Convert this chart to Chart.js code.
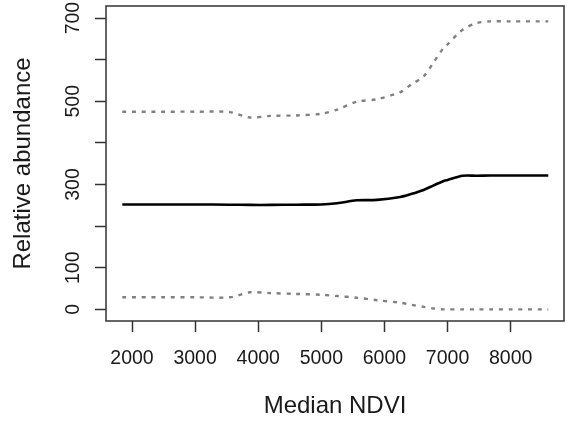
<!DOCTYPE html>
<html>
<head>
<meta charset="utf-8">
<script src="https://cdn.jsdelivr.net/npm/chart.js@4/dist/chart.umd.min.js"></script>
<style>
  html, body { margin: 0; padding: 0; background: #fff; }
  #wrap { width: 568px; height: 424px; }
</style>
</head>
<body>
<div id="wrap"><canvas id="grafNdvi"></canvas></div>
<script>
// valores
const ndvi   = [1846, 2500, 3000, 3550, 3870, 4200, 4600, 5000, 5250, 5560, 5880, 6250, 6420, 6620, 6780, 6930, 7000, 7240, 7460, 7670, 8000, 8596]
const ajuste = [252, 252, 252, 251.5, 251, 251, 251.5, 252, 255, 262, 263, 270, 277, 287, 298, 308, 311, 321, 321, 321.5, 321.5, 321.5]
const superior = [475, 475, 475, 474, 461, 465, 466, 470, 480, 499, 505, 522, 540, 560, 594, 627, 637, 672, 688, 692, 692, 692]
const inferior = [29, 29, 29, 29, 41, 39, 37, 35, 32, 28, 22, 16, 11, 6, 2, 0, 0, 0, 0, 0, 0, 0]

const xTicks = [2000, 3000, 4000, 5000, 6000, 7000, 8000]
const yTicks = [0, 100, 200, 300, 400, 500, 600, 700]
const yEtiquetas = [0, 100, 300, 500, 700]

const fuente = 'Liberation Sans, Arial, sans-serif'
const gris = '#333333'

function puntos(valores) {
    return ndvi.map((x, i) => ({ x: x, y: valores[i] }))
}

// caja alrededor del area del grafico, como en R
const caja = {
    id: 'caja',
    afterDraw(chart) {
        const a = chart.chartArea
        const ctx = chart.ctx
        ctx.save()
        ctx.strokeStyle = gris
        ctx.lineWidth = 1.5
        ctx.strokeRect(a.left, a.top, a.right - a.left, a.bottom - a.top)
        ctx.restore()
    }
}

let ctxNdvi = document.getElementById('grafNdvi')

let grafNdvi = new Chart(ctxNdvi, {
    type: 'line',
    data: {
        datasets: [
            {
                data: puntos(superior),
                borderColor: '#808080',
                borderWidth: 2.4,
                borderDash: [4, 5.7],
                pointRadius: 0,
                tension: 0.3
            },
            {
                data: puntos(inferior),
                borderColor: '#808080',
                borderWidth: 2.4,
                borderDash: [4, 5.7],
                pointRadius: 0,
                tension: 0.3
            },
            {
                data: puntos(ajuste),
                borderColor: '#000000',
                borderWidth: 2.6,
                pointRadius: 0,
                tension: 0.3
            }
        ]
    },
    options: {
        responsive: true,
        maintainAspectRatio: false,
        animation: false,
        layout: { padding: { top: 6, right: 4, left: 0, bottom: 0 } },
        plugins: {
            legend: { display: false },
            tooltip: { enabled: false }
        },
        scales: {
            x: {
                type: 'linear',
                min: 1588,
                max: 8845,
                afterBuildTicks: s => { s.ticks = xTicks.map(v => ({ value: v })) },
                afterFit: s => { s.height = 103; s.paddingLeft = 0; s.paddingRight = 0 },
                border: { display: false },
                grid: { drawOnChartArea: false, tickLength: 11, tickColor: gris, tickWidth: 1.5 },
                ticks: {
                    color: '#1a1a1a',
                    padding: 15,
                    maxRotation: 0,
                    autoSkip: false,
                    font: { family: fuente, size: 19.5 },
                    callback: v => String(v)
                },
                title: {
                    display: true,
                    text: 'Median NDVI',
                    color: '#1a1a1a',
                    padding: { top: 0, bottom: 3 },
                    font: { family: fuente, size: 24 }
                }
            },
            y: {
                min: -28,
                max: 729,
                afterBuildTicks: s => { s.ticks = yTicks.map(v => ({ value: v })) },
                afterFit: s => { s.width = 106; s.paddingTop = 0; s.paddingBottom = 0 },
                border: { display: false },
                grid: { drawOnChartArea: false, tickLength: 11, tickColor: gris, tickWidth: 1.5 },
                ticks: {
                    color: '#1a1a1a',
                    padding: 5,
                    minRotation: 90,
                    maxRotation: 90,
                    crossAlign: 'center',
                    autoSkip: false,
                    font: { family: fuente, size: 19.5 },
                    callback: v => yEtiquetas.includes(v) ? String(v) : ''
                },
                title: {
                    display: true,
                    text: 'Relative abundance',
                    color: '#1a1a1a',
                    padding: { top: 9, bottom: 0 },
                    font: { family: fuente, size: 24 }
                }
            }
        }
    },
    plugins: [caja]
})
</script>
</body>
</html>
